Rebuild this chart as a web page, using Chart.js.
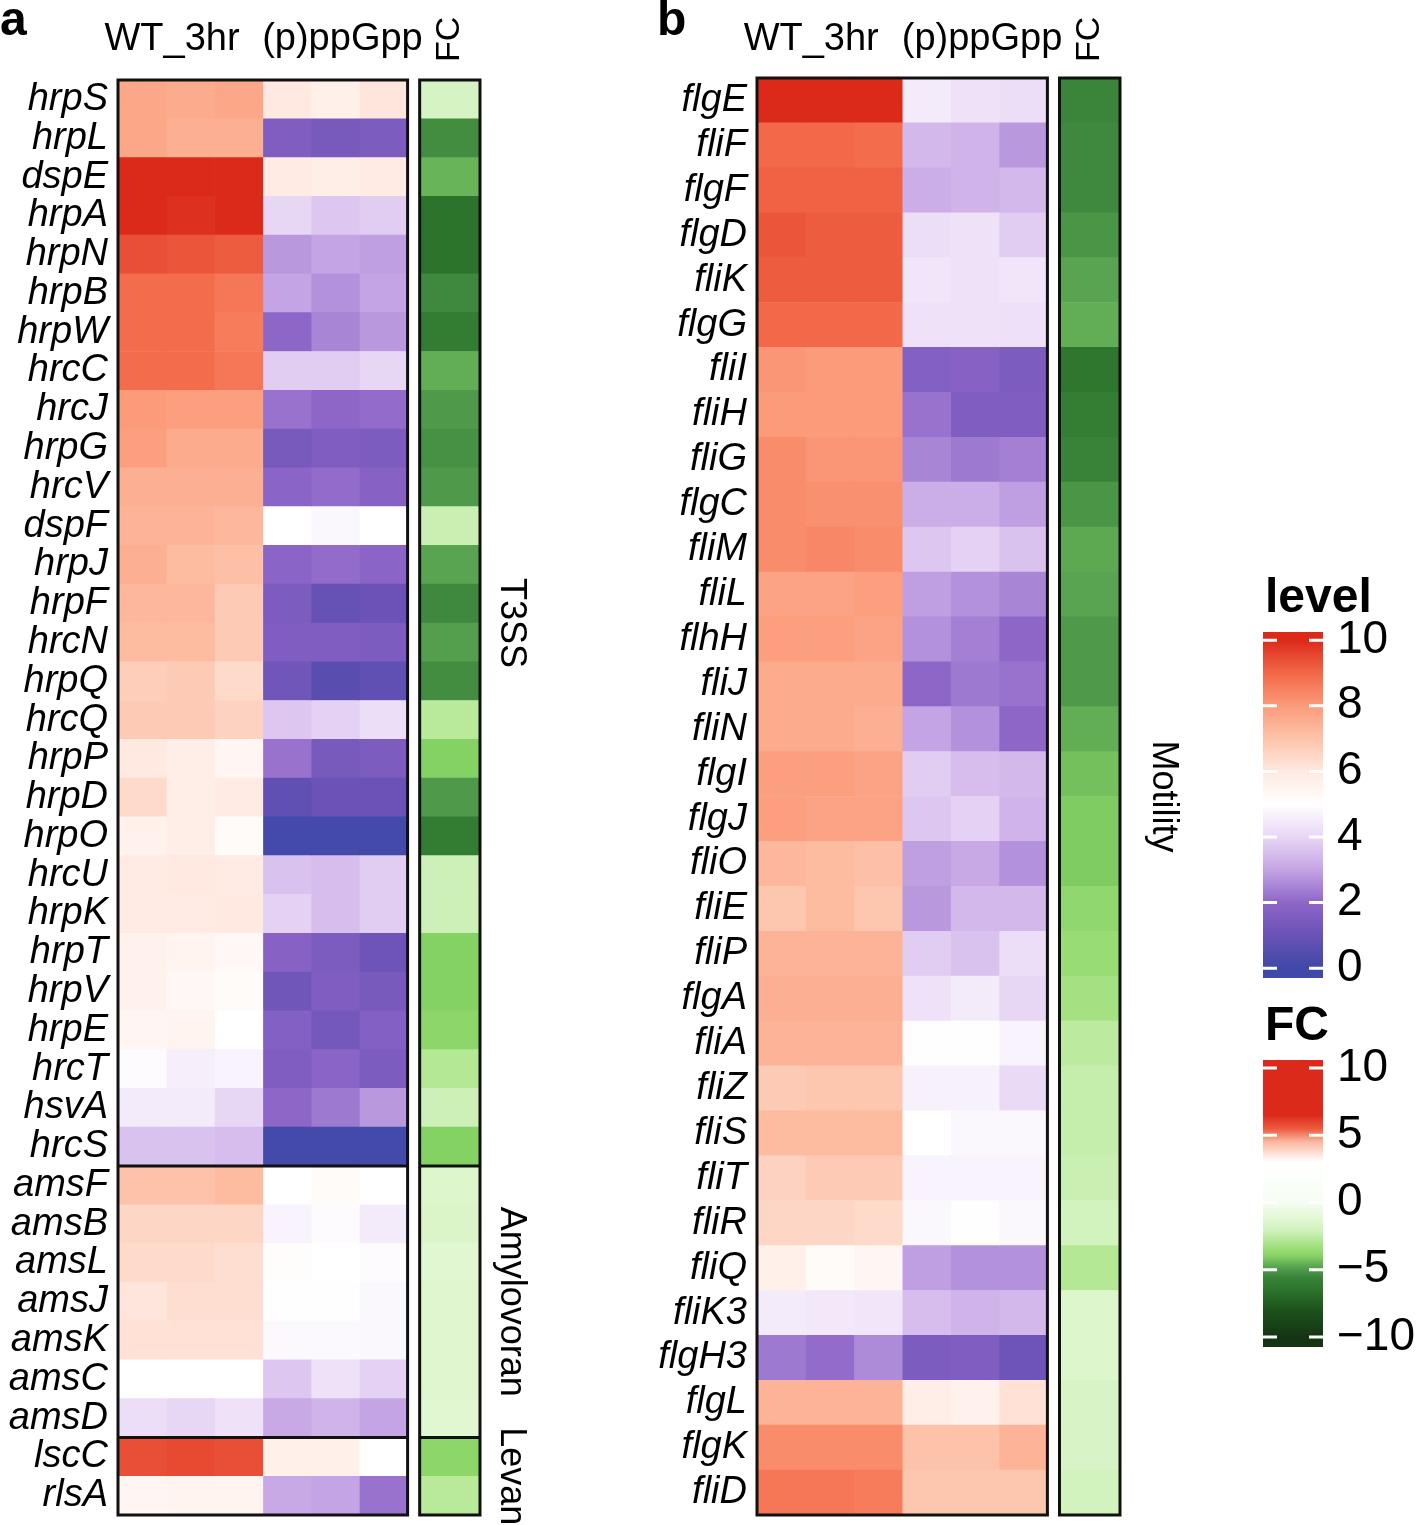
<!DOCTYPE html>
<html>
<head>
<meta charset="utf-8">
<script src="https://cdn.jsdelivr.net/npm/chart.js@4.4.1/dist/chart.umd.min.js"></script>
<style>
  html, body { margin: 0; padding: 0; background: #fff; }
  body { width: 1418px; height: 1525px; position: relative; overflow: hidden; }
  .box { position: absolute; }
</style>
</head>
<body>
<div class="box" style="left:0;top:0;width:640px;height:1525px"><canvas id="heatA"></canvas></div>
<div class="box" style="left:640px;top:0;width:580px;height:1525px"><canvas id="heatB"></canvas></div>
<div class="box" style="left:1240px;top:560px;width:178px;height:430px"><canvas id="legLevel"></canvas></div>
<div class="box" style="left:1240px;top:1000px;width:178px;height:380px"><canvas id="legFC"></canvas></div>
<script>
const FONT = '"Liberation Sans", Arial, Helvetica, sans-serif';

// panel a
const genesA = ['hrpS','hrpL','dspE','hrpA','hrpN','hrpB','hrpW','hrcC','hrcJ','hrpG','hrcV','dspF','hrpJ','hrpF','hrcN','hrpQ','hrcQ','hrpP','hrpD','hrpO','hrcU','hrpK','hrpT','hrpV','hrpE','hrcT','hsvA','hrcS','amsF','amsB','amsL','amsJ','amsK','amsC','amsD','lscC','rlsA'];
const wtA = [
  [7.7,7.6,7.7],[7.7,7.5,7.5],[10,10,10],[10,9.9,10],[9.4,9.3,9.2],[8.9,8.9,8.7],[8.9,8.9,8.6],[8.9,8.9,8.7],
  [8.0,7.9,7.9],[7.9,7.6,7.6],[7.5,7.5,7.5],[7.4,7.4,7.3],[7.5,7.2,7.1],[7.3,7.3,6.8],[7.2,7.2,6.8],[6.7,6.8,6.4],
  [6.8,6.8,6.6],[6.0,5.8,5.4],[6.4,5.8,5.9],[5.6,5.8,5.2],[5.9,6.0,5.9],[5.9,5.9,6.0],[5.6,5.5,5.3],[5.6,5.3,5.2],
  [5.4,5.5,5.0],[4.9,4.6,4.7],[4.5,4.5,4.0],[3.6,3.6,3.5],
  [7.0,7.0,7.2],[6.5,6.5,6.5],[6.4,6.4,6.3],[6.1,6.3,6.3],[6.2,6.2,6.2],[5.0,5.0,5.0],[4.2,4.0,4.3],
  [9.4,9.5,9.4],[5.4,5.5,5.5]
];
const ppA = [
  [6.0,5.7,6.1],[1.6,1.4,1.5],[5.9,5.8,5.9],[4.0,3.7,3.8],[2.8,3.0,2.9],[3.0,2.7,3.0],[2.0,2.5,2.8],[3.8,3.8,4.0],
  [2.2,2.0,2.1],[1.4,1.6,1.5],[1.9,2.1,1.8],[5.0,4.8,5.0],[1.9,2.1,1.9],[1.5,0.9,1.0],[1.6,1.6,1.5],[1.2,0.6,0.8],
  [3.7,3.9,4.2],[2.2,1.4,1.5],[0.8,1.0,1.0],[0.1,0.1,0.1],[3.6,3.5,3.8],[3.9,3.5,3.8],[1.8,1.5,1.1],[1.2,1.6,1.4],
  [1.7,1.3,1.7],[1.6,1.9,1.5],[2.0,2.3,2.8],[0.1,0.1,0.1],
  [5.0,5.2,5.0],[4.7,4.9,4.5],[5.1,5.0,4.9],[4.95,4.95,4.8],[4.85,4.85,4.8],[3.7,4.3,3.9],[3.1,3.3,3.0],
  [5.7,5.7,5.0],[3.1,3.0,2.2]
];
const fcA = [-1.8,-5.3,-4.5,-6.5,-6.5,-5.4,-6.0,-4.6,-5.0,-5.2,-5.0,-2.3,-4.8,-5.4,-4.9,-5.3,-2.7,-4.0,-5.0,-6.0,
  -2.2,-2.2,-4.0,-4.0,-3.8,-2.8,-2.2,-4.0,-1.5,-1.6,-1.3,-1.4,-1.4,-1.4,-1.3,-3.8,-2.7];
const groupsA = [['T3SS', 0, 27], ['Amylovoran', 28, 34], ['Levan', 35, 36]];

// panel b
const genesB = ['flgE','fliF','flgF','flgD','fliK','flgG','fliI','fliH','fliG','flgC','fliM','fliL','flhH','fliJ','fliN','flgI','flgJ','fliO','fliE','fliP','flgA','fliA','fliZ','fliS','fliT','fliR','fliQ','fliK3','flgH3','flgL','flgK','fliD'];
const wtB = [
  [10,10,10],[9.0,9.0,8.9],[9.1,9.1,9.1],[9.3,9.2,9.2],[9.2,9.2,9.2],[9.0,9.0,9.0],[8.1,8.0,8.0],[8.0,8.0,8.0],
  [8.3,8.1,8.1],[8.3,8.2,8.2],[8.3,8.4,8.3],[7.8,7.8,7.9],[7.9,7.9,7.8],[7.6,7.6,7.6],[7.6,7.6,7.5],[7.9,7.9,7.8],
  [7.9,7.8,7.8],[7.3,7.2,7.1],[6.9,7.2,6.9],[7.4,7.4,7.4],[7.5,7.5,7.5],[7.4,7.4,7.4],[6.8,6.9,6.9],[7.2,7.2,7.2],
  [6.6,6.8,6.8],[6.5,6.5,6.4],[5.7,5.2,5.4],[4.5,4.45,4.4],[2.3,2.1,2.6],[7.4,7.4,7.4],[8.3,8.3,8.3],[8.7,8.7,8.6]
];
const ppB = [
  [4.5,4.3,4.2],[3.4,3.3,2.8],[3.2,3.3,3.4],[4.2,4.3,3.8],[4.4,4.3,4.4],[4.3,4.3,4.25],[1.7,1.8,1.5],[2.2,1.6,1.6],
  [2.5,2.3,2.4],[3.2,3.2,2.9],[3.7,3.9,3.6],[2.9,2.7,2.5],[2.7,2.4,2.0],[2.0,2.3,2.2],[3.0,2.7,2.0],[3.8,3.5,3.4],
  [3.7,3.9,3.3],[2.9,3.1,2.7],[2.8,3.4,3.4],[3.8,3.6,4.2],[4.3,4.5,4.0],[4.95,4.95,4.7],[4.65,4.65,4.1],[5.0,4.8,4.8],
  [4.7,4.7,4.7],[4.8,4.95,4.8],[2.9,2.7,2.7],[3.5,3.3,3.4],[1.5,1.6,1.1],[5.8,5.6,6.2],[7.0,7.0,7.4],[6.9,6.9,6.9]
];
const fcB = [-5.5,-5.4,-5.4,-5.1,-4.8,-4.6,-6.3,-5.9,-5.6,-5.1,-4.7,-4.8,-5.0,-5.0,-4.6,-4.3,-4.1,-4.1,-3.7,-3.5,
  -3.2,-2.6,-2.4,-2.4,-2.3,-2.0,-2.8,-1.5,-1.5,-1.7,-1.7,-2.0];
const groupsB = [['Motility', 0, 31]];

// colour scales
const levelTicks = [0, 2, 4, 6, 8, 10];
const fcTicks = [-10, -5, 0, 5, 10];
const levelStops = [[0,'#3f49a8'],[1,'#6a52b6'],[2,'#8e66c8'],[3,'#c4a4e4'],[4,'#e8d6f5'],[5,'#ffffff'],
  [6,'#ffe9e1'],[7,'#fdc3aa'],[8,'#fb9b7a'],[9,'#f26848'],[10,'#dc2a1a']];
const fcStops = [[-10,'#143414'],[-8,'#1c521c'],[-6.5,'#2c742c'],[-5.5,'#3a853a'],[-5,'#4e9a4a'],[-4.6,'#62ae55'],
  [-4,'#85d264'],[-3.5,'#98dc74'],[-2.7,'#b8ea9a'],[-2.2,'#cdf0b8'],[-1.5,'#ddf6cc'],[0,'#f6fdf2'],[3,'#ffffff'],
  [4.5,'#fbb8a0'],[5.5,'#ec5a3e'],[6.5,'#dc2a1a'],[10,'#dc2a1a']];

function hexRgb(h) {
  return [1, 3, 5].map(i => parseInt(h.slice(i, i + 2), 16));
}
function ramp(stops, v) {
  if (v <= stops[0][0]) return stops[0][1];
  for (let i = 1; i < stops.length; i++) {
    if (v <= stops[i][0]) {
      const t = (v - stops[i - 1][0]) / (stops[i][0] - stops[i - 1][0]);
      const a = hexRgb(stops[i - 1][1]), b = hexRgb(stops[i][1]);
      const c = a.map((x, k) => Math.round(x + (b[k] - x) * t));
      return `rgb(${c[0]},${c[1]},${c[2]})`;
    }
  }
  return stops[stops.length - 1][1];
}

function heatDatasets(wt, pp, fc) {
  const ds = [];
  for (let c = 0; c < 3; c++) {
    ds.push({ data: wt.map(() => [c, c + 1]), backgroundColor: wt.map(r => ramp(levelStops, r[c])) });
  }
  for (let c = 0; c < 3; c++) {
    ds.push({ data: pp.map(() => [c + 3, c + 4]), backgroundColor: pp.map(r => ramp(levelStops, r[c])) });
  }
  ds.push({ data: fc.map(() => [6.25, 7.5]), backgroundColor: fc.map(v => ramp(fcStops, v)) });
  ds.forEach(d => {
    d.borderWidth = 0;
    d.barPercentage = 1;
    d.categoryPercentage = 1;
    d.grouped = false;
  });
  return ds;
}

// keep tick labels from pushing the plot area in
function fixAxis(width) {
  return s => {
    s.width = width;
    s.paddingTop = 0;
    s.paddingBottom = 0;
  };
}

// outlines, column titles, group labels
const heatDecor = {
  id: 'heatDecor',
  afterDatasetsDraw(chart, args, o) {
    const { ctx, chartArea: a, scales: { x, y } } = chart;
    ctx.save();
    ctx.strokeStyle = '#111';
    ctx.lineWidth = 3;
    const x0 = x.getPixelForValue(0), x6 = x.getPixelForValue(6);
    const f0 = x.getPixelForValue(6.25), f1 = x.getPixelForValue(7.5);
    ctx.strokeRect(x0, a.top, x6 - x0, a.bottom - a.top);
    ctx.strokeRect(f0, a.top, f1 - f0, a.bottom - a.top);
    o.groups.slice(1).forEach(g => {
      const yy = (y.getPixelForValue(g[1] - 1) + y.getPixelForValue(g[1])) / 2;
      ctx.beginPath();
      ctx.moveTo(x0, yy); ctx.lineTo(x6, yy);
      ctx.moveTo(f0, yy); ctx.lineTo(f1, yy);
      ctx.stroke();
    });

    ctx.fillStyle = '#000';
    ctx.font = `38px ${FONT}`;
    ctx.textAlign = 'center';
    ctx.textBaseline = 'alphabetic';
    ctx.fillText('WT_3hr', x.getPixelForValue(1.12), 50);
    ctx.fillText('(p)ppGpp', x.getPixelForValue(4.65), 50);

    ctx.font = `bold 48px ${FONT}`;
    ctx.textAlign = 'left';
    ctx.fillText(o.letter, o.letterX, 35);

    ctx.save();
    ctx.font = `34px ${FONT}`;
    ctx.translate((f0 + f1) / 2, 62);
    ctx.rotate(-Math.PI / 2);
    ctx.textAlign = 'left';
    ctx.textBaseline = 'middle';
    ctx.fillText('FC', 0, 0);
    ctx.restore();

    ctx.font = `36px ${FONT}`;
    o.groups.forEach(g => {
      const yy = (y.getPixelForValue(g[1]) + y.getPixelForValue(g[2])) / 2;
      ctx.save();
      ctx.translate(f1 + o.groupOffset, yy);
      ctx.rotate(Math.PI / 2);
      ctx.textAlign = 'center';
      ctx.textBaseline = 'middle';
      ctx.fillText(g[0], 0, 0);
      ctx.restore();
    });
    ctx.restore();
  }
};

function heatChart(id, genes, wt, pp, fc, groups, o) {
  return new Chart(document.getElementById(id), {
    type: 'bar',
    data: { labels: genes, datasets: heatDatasets(wt, pp, fc) },
    options: {
      indexAxis: 'y',
      animation: false,
      responsive: true,
      maintainAspectRatio: false,
      layout: { padding: { left: 0, top: o.top, right: o.right, bottom: 10 } },
      scales: {
        x: { type: 'linear', min: 0, max: 7.5, display: false },
        y: {
          type: 'category',
          offset: true,
          grid: { display: false, drawTicks: false },
          border: { display: false },
          ticks: { autoSkip: false, padding: 10, color: '#000', font: { family: FONT, size: 38, style: 'italic' } },
          afterFit: fixAxis(o.axisWidth)
        }
      },
      plugins: {
        legend: { display: false },
        tooltip: { enabled: false },
        heatDecor: { groups, letter: o.letter, letterX: o.letterX, groupOffset: o.groupOffset }
      }
    },
    plugins: [heatDecor]
  });
}

heatChart('heatA', genesA, wtA, ppA, fcA, groupsA, { top: 80, right: 160, axisWidth: 118, letter: 'a', letterX: 0, groupOffset: 31 });
heatChart('heatB', genesB, wtB, ppB, fcB, groupsB, { top: 78, right: 100, axisWidth: 117, letter: 'b', letterX: 17, groupOffset: 43 });

// colour bar legends
const colorBar = {
  id: 'colorBar',
  beforeDatasetsDraw(chart, args, o) {
    const { ctx, chartArea: a, scales: { y } } = chart;
    const yMin = y.getPixelForValue(y.min), yMax = y.getPixelForValue(y.max);
    const g = ctx.createLinearGradient(0, yMin, 0, yMax);
    o.stops.forEach(([v, c]) => g.addColorStop((v - y.min) / (y.max - y.min), c));
    ctx.save();
    ctx.fillStyle = g;
    ctx.fillRect(a.left, a.top, a.right - a.left, a.bottom - a.top);
    ctx.strokeStyle = '#fff';
    ctx.lineWidth = 3;
    o.ticks.forEach(v => {
      const yy = y.getPixelForValue(v);
      ctx.beginPath();
      ctx.moveTo(a.left, yy); ctx.lineTo(a.left + 14, yy);
      ctx.moveTo(a.right - 14, yy); ctx.lineTo(a.right, yy);
      ctx.stroke();
    });
    ctx.fillStyle = '#000';
    ctx.font = `bold 48px ${FONT}`;
    ctx.textAlign = 'left';
    ctx.textBaseline = 'alphabetic';
    ctx.fillText(o.title, a.left + 2, a.top - 20);
    ctx.restore();
  }
};

function legendChart(id, stops, ticks, min, max, title, top, bottom) {
  return new Chart(document.getElementById(id), {
    type: 'scatter',
    data: { datasets: [] },
    options: {
      animation: false,
      responsive: true,
      maintainAspectRatio: false,
      layout: { padding: { left: 23, top, right: 0, bottom } },
      scales: {
        x: { display: false, min: 0, max: 1 },
        y: {
          position: 'right',
          min, max,
          grid: { display: false, drawTicks: false },
          border: { display: false },
          afterBuildTicks: s => { s.ticks = ticks.map(v => ({ value: v })); },
          afterFit: fixAxis(95),
          ticks: {
            padding: 14, color: '#000', font: { family: FONT, size: 46 },
            callback: v => String(v).replace('-', '\u2212')
          }
        }
      },
      plugins: { legend: { display: false }, tooltip: { enabled: false }, colorBar: { stops, ticks, title } }
    },
    plugins: [colorBar]
  });
}

legendChart('legLevel', levelStops, levelTicks, -0.3, 10.25, 'level', 72, 12);
legendChart('legFC', fcStops, fcTicks, -10.75, 10.6, 'FC', 60, 33);
</script>
</body>
</html>
